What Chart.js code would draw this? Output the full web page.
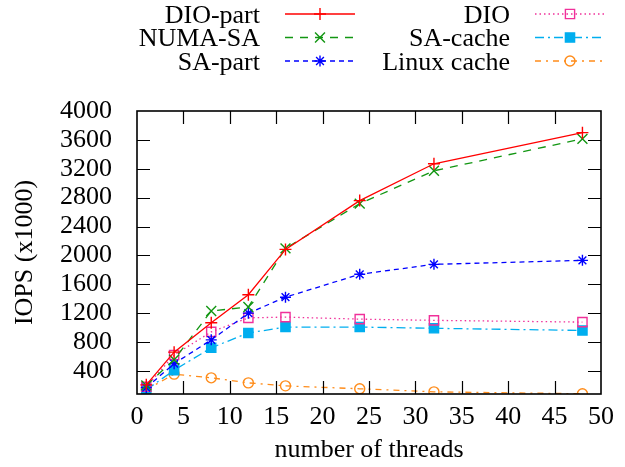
<!DOCTYPE html>
<html>
<head>
<meta charset="utf-8">
<script src="https://cdn.jsdelivr.net/npm/chart.js@4"></script>
<style>
    html, body { margin: 0; padding: 0; background: #fff; }
    #wrap { width: 625px; height: 467px; }
</style>
</head>
<body>
<div id="wrap"><canvas id="iopsChart" width="625" height="467"></canvas></div>
<script>
// Data
const threads = [1, 4, 8, 12, 16, 24, 32, 48];
const dioPart = [207, 660, 1066, 1455, 2083, 2759, 3269, 3700];
const numaSa = [200, 555, 1230, 1285, 2097, 2717, 3172, 3614];
const saPart = [170, 500, 830, 1200, 1421, 1738, 1876, 1931];
const dio = [180, 620, 940, 1135, 1145, 1117, 1100, 1076];
const saCache = [138, 410, 720, 925, 1007, 1007, 990, 960];
const linuxCache = [138, 355, 304, 234, 193, 152, 110, 83];
const xTicks = [0, 5, 10, 15, 20, 25, 30, 35, 40, 45, 50];
const yTicks = [400, 800, 1200, 1600, 2000, 2400, 2800, 3200, 3600, 4000];

const FONT = 'Liberation Serif, Times New Roman, serif';

function toPoints(values) {
    return threads.map((t, i) => ({ x: t, y: values[i] }));
}

function makeSeries(label, values, color, dash, pointStyle, radius, filled) {
    return {
        label: label,
        data: toPoints(values),
        borderColor: color,
        backgroundColor: filled ? color : 'rgba(0,0,0,0)',
        borderWidth: 1.3,
        borderDash: dash,
        pointStyle: pointStyle,
        pointRadius: radius,
        pointBorderColor: color,
        pointBackgroundColor: filled ? color : 'rgba(0,0,0,0)',
        pointBorderWidth: 1.4,
        tension: 0,
        fill: false
    };
}

// box around the plot plus inward ticks on all four sides
const frameAndTicks = {
    id: 'frameAndTicks',
    afterDatasetsDraw(chart) {
        const { ctx, chartArea: a, scales } = chart;
        const len = 13;
        ctx.save();
        ctx.strokeStyle = '#000';
        ctx.lineWidth = 1.2;
        ctx.beginPath();
        xTicks.forEach(v => {
            const px = Math.round(scales.x.getPixelForValue(v)) + 0.5;
            if (v === 0 || v === 50) return;
            ctx.moveTo(px, a.bottom);
            ctx.lineTo(px, a.bottom - len);
            ctx.moveTo(px, a.top);
            ctx.lineTo(px, a.top + len);
        });
        yTicks.forEach(v => {
            const py = Math.round(scales.y.getPixelForValue(v)) + 0.5;
            if (v === 4000) return;
            ctx.moveTo(a.left, py);
            ctx.lineTo(a.left + len, py);
            ctx.moveTo(a.right, py);
            ctx.lineTo(a.right - len, py);
        });
        ctx.stroke();
        ctx.lineWidth = 1.6;
        ctx.strokeRect(a.left, a.top, a.right - a.left, a.bottom - a.top);
        ctx.restore();
    }
};

// gnuplot style key: two columns, labels right aligned, line sample with marker
const keyLegend = {
    id: 'keyLegend',
    afterDraw(chart) {
        const { ctx } = chart;
        const cols = [
            { textRight: 260, lineFrom: 285, lineTo: 355 },
            { textRight: 510, lineFrom: 535, lineTo: 605 }
        ];
        const rows = [14, 37.5, 61];
        ctx.save();
        chart.data.datasets.forEach((ds, i) => {
            const col = cols[Math.floor(i / 3)];
            const y = rows[i % 3];
            ctx.fillStyle = '#000';
            ctx.font = '26px ' + FONT;
            ctx.textAlign = 'right';
            ctx.textBaseline = 'alphabetic';
            ctx.fillText(ds.label, col.textRight, y + 8.5);

            ctx.strokeStyle = ds.borderColor;
            ctx.lineWidth = ds.borderWidth;
            ctx.setLineDash(ds.borderDash || []);
            ctx.beginPath();
            ctx.moveTo(col.lineFrom, y);
            ctx.lineTo(col.lineTo, y);
            ctx.stroke();
            ctx.setLineDash([]);

            ctx.strokeStyle = ds.pointBorderColor;
            ctx.fillStyle = ds.pointBackgroundColor;
            ctx.lineWidth = ds.pointBorderWidth;
            Chart.helpers.drawPoint(ctx, {
                pointStyle: ds.pointStyle,
                radius: ds.pointRadius,
                rotation: 0,
                borderWidth: ds.pointBorderWidth
            }, (col.lineFrom + col.lineTo) / 2, y);
        });
        ctx.restore();
    }
};

const ctx = document.getElementById('iopsChart').getContext('2d');
const iopsChart = new Chart(ctx, {
    type: 'line',
    data: {
        datasets: [
            makeSeries('DIO-part', dioPart, '#ff0000', [], 'cross', 6, false),
            makeSeries('NUMA-SA', numaSa, '#129612', [8, 7], 'crossRot', 7, false),
            makeSeries('SA-part', saPart, '#0000ff', [5, 4], 'star', 5.5, false),
            makeSeries('DIO', dio, '#f0309a', [1.5, 3], 'rect', 6.5, false),
            makeSeries('SA-cache', saCache, '#00aeef', [9, 4, 2, 4], 'rect', 6.5, true),
            makeSeries('Linux cache', linuxCache, '#ff8c1a', [6, 5, 2, 5], 'circle', 5, false)
        ]
    },
    options: {
        responsive: false,
        animation: false,
        events: [],
        layout: {
            padding: { top: 111, right: 24, left: 0, bottom: 0 }
        },
        scales: {
            x: {
                type: 'linear',
                min: 0,
                max: 50,
                afterBuildTicks: scale => { scale.ticks = xTicks.map(v => ({ value: v })); },
                afterFit: scale => { scale.height = 73; },
                grid: { display: false, drawTicks: false },
                border: { display: false },
                ticks: {
                    color: '#000',
                    padding: 8,
                    autoSkip: false,
                    maxRotation: 0,
                    callback: v => String(v),
                    font: { family: FONT, size: 26 }
                },
                title: {
                    display: true,
                    text: 'number of threads',
                    color: '#000',
                    padding: { top: 0, bottom: 1 },
                    font: { family: FONT, size: 26 }
                }
            },
            y: {
                type: 'linear',
                min: 80,
                max: 4000,
                afterBuildTicks: scale => { scale.ticks = yTicks.map(v => ({ value: v })); },
                afterFit: scale => { scale.width = 137; },
                grid: { display: false, drawTicks: false },
                border: { display: false },
                ticks: {
                    color: '#000',
                    padding: 25,
                    autoSkip: false,
                    callback: v => String(v),
                    font: { family: FONT, size: 26 }
                },
                title: {
                    display: true,
                    text: 'IOPS (x1000)',
                    color: '#000',
                    padding: { top: 10, bottom: 0 },
                    font: { family: FONT, size: 26 }
                }
            }
        },
        plugins: {
            legend: { display: false },
            tooltip: { enabled: false }
        }
    },
    plugins: [frameAndTicks, keyLegend]
});
</script>
</body>
</html>
